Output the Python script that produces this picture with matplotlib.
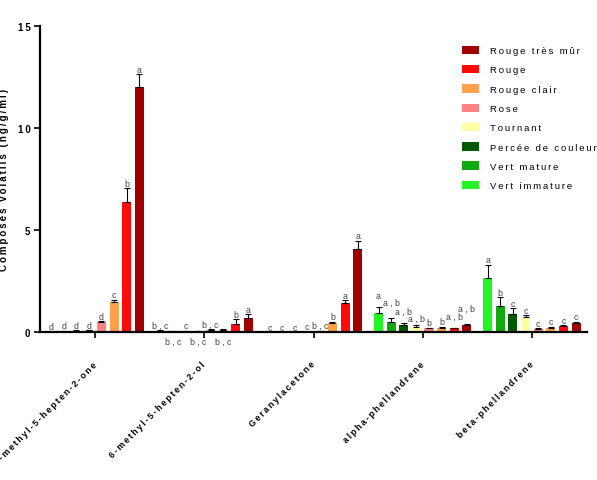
import matplotlib
matplotlib.use("Agg")
import matplotlib.pyplot as plt
from matplotlib.patches import Patch
import numpy as np

plt.rcParams['font.family'] = ['Liberation Sans', 'DejaVu Sans']

compounds = ["6-methyl-5-hepten-2-one", "6-methyl-5-hepten-2-ol", "Geranylacetone",
             "alpha-phellandrene", "beta-phellandrene"]
stages = ["Vert immature", "Vert mature", "Percée de couleur", "Tournant",
          "Rose", "Rouge clair", "Rouge", "Rouge très mûr"]
colors = ["#22F522", "#10AA10", "#035803", "#FFFFA6",
          "#FF8282", "#FFA04C", "#FF0A0A", "#A00000"]

# values[stage][compound]
values = {
    "Vert immature":     [0.02, 0.06, 0.00, 0.94, 2.64],
    "Vert mature":       [0.05, 0.05, 0.00, 0.48, 1.29],
    "Percée de couleur": [0.06, 0.04, 0.00, 0.32, 0.88],
    "Tournant":          [0.08, 0.04, 0.01, 0.25, 0.72],
    "Rose":              [0.50, 0.10, 0.05, 0.19, 0.15],
    "Rouge clair":       [1.49, 0.10, 0.42, 0.21, 0.20],
    "Rouge":             [6.39, 0.39, 1.44, 0.18, 0.28],
    "Rouge très mûr":    [12.03, 0.70, 4.08, 0.32, 0.44],
}
errors = {
    "Vert immature":     [0.01, 0.02, 0.00, 0.27, 0.66],
    "Vert mature":       [0.02, 0.02, 0.00, 0.19, 0.41],
    "Percée de couleur": [0.02, 0.02, 0.00, 0.12, 0.28],
    "Tournant":          [0.02, 0.01, 0.01, 0.07, 0.11],
    "Rose":              [0.03, 0.03, 0.02, 0.03, 0.03],
    "Rouge clair":       [0.09, 0.03, 0.08, 0.05, 0.05],
    "Rouge":             [0.67, 0.25, 0.13, 0.03, 0.04],
    "Rouge très mûr":    [0.60, 0.17, 0.40, 0.06, 0.06],
}
letters = {
    "Vert immature":     ["d", "b,c", "c", "a", "a"],
    "Vert mature":       ["d", "b,c", "c", "a,b", "b"],
    "Percée de couleur": ["d", "c", "c", "a,b", "c"],
    "Tournant":          ["d", "b,c", "c", "a,b", "c"],
    "Rose":              ["d", "b,c", "b,c", "b", "c"],
    "Rouge clair":       ["c", "b,c", "b", "b", "c"],
    "Rouge":             ["b", "b", "a", "a,b", "c"],
    "Rouge très mûr":    ["a", "a", "a", "a,b", "c"],
}
# letters drawn below the axis (compound index, stage)
below = {(1, "Vert mature"), (1, "Tournant"), (1, "Rouge clair")}
# extra lift of some letters (layout only), in data units
lift = {(3, "Vert immature"): 0.32, (3, "Vert mature"): 0.55,
        (3, "Percée de couleur"): 0.33, (3, "Tournant"): 0.1,
        (3, "Rouge"): 0.3, (3, "Rouge très mûr"): 0.55}

yticks = [0, 5, 10, 15]


def spaced(s):
    return "\u2009".join(s)


fig = plt.figure(figsize=(5.97, 4.81), dpi=100)
ax = fig.add_axes([40 / 597, 1 - 333 / 481, 547 / 597, 306 / 481])

n = len(stages)
step = 0.1156
width = 0.083
x = np.arange(len(compounds))

for i, st in enumerate(stages):
    xs = x + (i - (n - 1) / 2) * step
    v = np.array(values[st])
    e = np.array(errors[st])
    ax.bar(xs, v, width=width, color=colors[i], edgecolor='none', zorder=2)
    ax.errorbar(xs, v, yerr=[np.zeros_like(e), e], fmt='none', ecolor='black',
                elinewidth=0.8, capsize=2.2, capthick=0.8, zorder=3)
    for j in range(len(compounds)):
        lab = letters[st][j].replace(",", " , ")
        if (j, st) in below:
            ax.text(xs[j], -0.22, lab, ha='center', va='top', fontsize=6.3,
                    color='#444444')
        else:
            ax.text(xs[j], v[j] + e[j] + 0.02 + lift.get((j, st), 0), lab,
                    ha='center', va='bottom', fontsize=6.3, color='#444444')

ax.set_xlim(-0.505, len(compounds) - 0.495)
ax.set_ylim(0, 15)
ax.set_yticks(yticks)
ax.set_yticklabels([spaced(str(t)) for t in yticks], fontweight='bold', fontsize=7)
ax.set_xticks(x)
ax.set_xticklabels([spaced(c) for c in compounds], rotation=45, ha='right',
                   va='center', rotation_mode='anchor', fontweight='bold', fontsize=6.3)
ax.tick_params(axis='x', length=4, width=1.2, pad=18)
ax.tick_params(axis='y', length=4, width=1.2, pad=3)

for s in ['top', 'right']:
    ax.spines[s].set_visible(False)
for s in ['left', 'bottom']:
    ax.spines[s].set_linewidth(1.6)

ax.set_ylabel(spaced("Composés volatils (ng/g/ml)"), fontweight='bold', fontsize=7)
ax.yaxis.set_label_coords(-0.056, 0.5)

handles = [Patch(facecolor=colors[i], edgecolor='none', label=spaced(stages[i]))
           for i in range(n - 1, -1, -1)]
ax.legend(handles=handles, loc='upper left', bbox_to_anchor=(0.764, 0.948),
          frameon=False, fontsize=6.8, handlelength=1.8, handleheight=1.0,
          labelspacing=1.04, handletextpad=1.25, borderaxespad=0)

fig.savefig("out.png", dpi=100)
